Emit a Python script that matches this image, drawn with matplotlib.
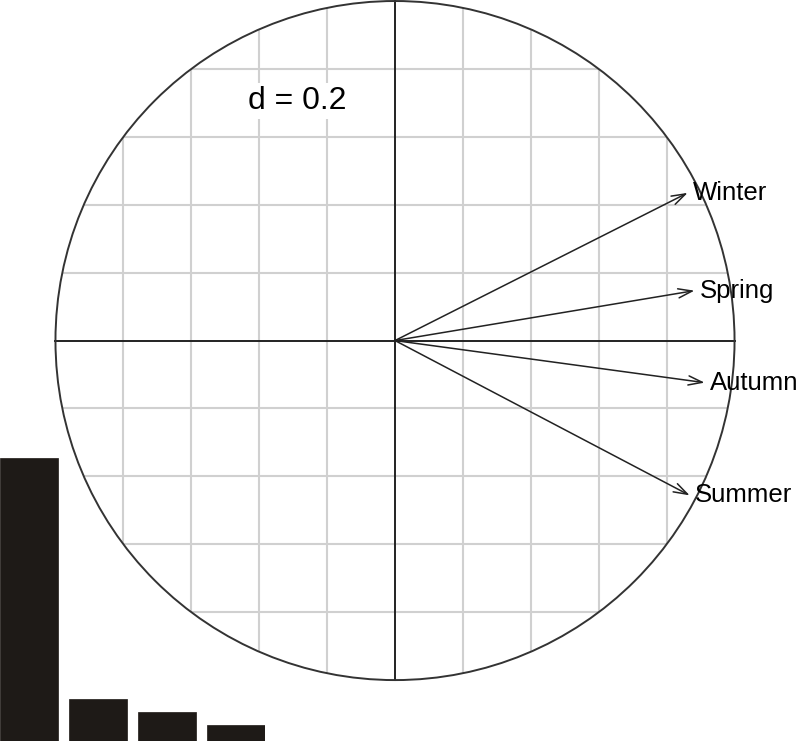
import numpy as np
import matplotlib
matplotlib.use("Agg")
import matplotlib.pyplot as plt
from matplotlib.patches import Circle

plt.rcParams['font.family'] = ['Liberation Sans', 'DejaVu Sans']

# Data
variables = ["Winter", "Spring", "Autumn", "Summer"]
comp1 = [0.862, 0.882, 0.912, 0.868]
comp2 = [0.435, 0.147, -0.124, -0.456]
eigenvalues = [3.06, 0.45, 0.31, 0.17]
grid_d = 0.2

W, H = 800, 741
fig = plt.figure(figsize=(W / 100, H / 100), dpi=100)

cx, cy, R = 395.0, 340.0, 340.0
ax = fig.add_axes([0, 0, 1, 1])
ax.set_xlim(-cx / R, (W - cx) / R)
ax.set_ylim(-(H - cy) / R, cy / R + 0.003)
ax.set_aspect('equal')
ax.axis('off')

clip = Circle((0, 0), 1.0, transform=ax.transData, facecolor='none', edgecolor='none')
ax.add_patch(clip)

ticks = np.arange(-1.0, 1.0001, grid_d)
for t in ticks:
    if abs(t) < 1e-9:
        continue
    l1, = ax.plot([t, t], [-1, 1], color='#d0d0d0', lw=1.5, zorder=1)
    l2, = ax.plot([-1, 1], [t, t], color='#d0d0d0', lw=1.5, zorder=1)
    l1.set_clip_path(clip)
    l2.set_clip_path(clip)

ax.plot([-1, 1], [0, 0], color='#222222', lw=1.4, zorder=2)
ax.plot([0, 0], [-1, 1], color='#222222', lw=1.4, zorder=2)
ax.add_patch(Circle((0, 0), 1.0, facecolor='none', edgecolor='#333333', lw=1.4, zorder=3))

for name, x, y in zip(variables, comp1, comp2):
    ax.annotate('', xy=(x, y), xytext=(0, 0),
                arrowprops=dict(arrowstyle='->,head_length=1.0,head_width=0.33',
                                color='#222222', lw=1.1, shrinkA=0, shrinkB=0),
                zorder=4)
    ax.text(x + 0.015, y, name, ha='left', va='center', fontsize=18.5,
            color='black', zorder=5)

ax.text(-0.289, 0.706, 'd = %s' % grid_d, ha='center', va='center', fontsize=23,
        zorder=6, bbox=dict(facecolor='white', edgecolor='none', pad=2))

# eigenvalue inset
iax = fig.add_axes([0, 0, 265 / W, 283 / H])
iax.patch.set_alpha(0)
idx = np.arange(len(eigenvalues))
iax.bar(idx * 1.2, eigenvalues, width=1.0, align='edge', color='#1e1a17',
        edgecolor='#1e1a17', lw=0.5)
iax.set_xlim(0, 4.6)
iax.set_ylim(0, max(eigenvalues))
iax.axis('off')

fig.savefig('out.png', dpi=100)
